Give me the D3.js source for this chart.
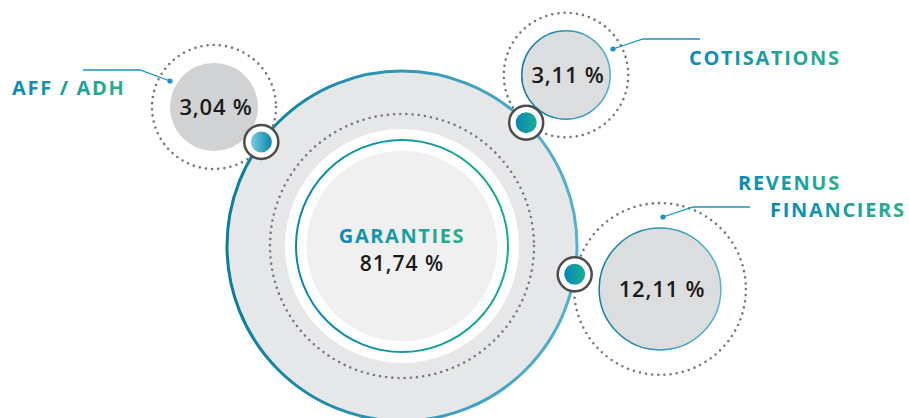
<!DOCTYPE html>
<html>
<head>
<meta charset="utf-8">
<script src="https://cdn.jsdelivr.net/npm/d3@7"></script>
<style>
  body { margin: 0; background: #fff; }
  svg { display: block; font-family: "Open Sans", sans-serif; }
</style>
</head>
<body>
<div class="chart"></div>
<script>
//chart data
var mainLabel = "GARANTIES";
var mainValue = 81.74;
var labels = [["AFF / ADH"], ["COTISATIONS"], ["REVENUS", "FINANCIERS"]];
var values = [3.04, 3.11, 12.11];

var width = 909, height = 418;

//layout of the bubbles around the big circle
var bigCenter = [402, 246];
var bigRadius = 175;
var bubbleCenters = [[214, 107], [566, 75], [660, 289]];
var dotAngles = [216.5, -44.8, 9.3]; //degrees, screen coords
var labelPos = [[12, 95], [689, 65], [738, 189.5]];
var labelLineDx = [[0, 32], [0, 0], [0, 32]];
var leaders = [
    [[83, 70], [140, 70], [170, 81]],
    [[700, 39], [643, 39], [613, 49]],
    [[750, 207], [693, 207], [663, 217]]
];

//size of bubbles
var rScale = d3.scalePow().exponent(0.235)
    .domain([0, 100])
    .range([0, 100]);

var fmt = function(v){ return d3.format(".2f")(v).replace(".", ",") + " %"; };

var svg = d3.select("div.chart")
    .append("svg")
    .attr("width", width)
    .attr("height", height);

var defs = svg.append("defs");

function gradient(id, c1, c2){
    var g = defs.append("linearGradient")
        .attr("id", id)
        .attr("x1", "0%").attr("x2", "100%")
        .attr("y1", "0%").attr("y2", "0%");
    g.append("stop").attr("offset", "0%").attr("stop-color", c1);
    g.append("stop").attr("offset", "100%").attr("stop-color", c2);
}
gradient("textGrad", "#0a89b6", "#28b08c");
gradient("ringGrad", "#0c7d9c", "#55b2cf");
gradient("tealRing", "#0a86b4", "#17ab8f");
gradient("dotGrad", "#0a86b8", "#1aae92");
gradient("dotGradLight", "#7ccbe0", "#0a86aa");

//big circle
var big = svg.append("g")
    .attr("transform", "translate(" + bigCenter + ")");

big.append("circle")
    .attr("r", bigRadius)
    .style("fill", "#e6e7e8")
    .style("stroke", "url(#ringGrad)")
    .style("stroke-width", 3);

big.append("circle")
    .attr("r", 132)
    .style("fill", "none")
    .style("stroke", "#77787b")
    .style("stroke-width", 2.6)
    .style("stroke-linecap", "round")
    .style("stroke-dasharray", "0 6.2");

big.append("circle")
    .attr("r", 117)
    .style("fill", "#fff");

big.append("circle")
    .attr("r", 106)
    .style("fill", "none")
    .style("stroke", "url(#tealRing)")
    .style("stroke-width", 2);

big.append("circle")
    .attr("r", rScale(mainValue))
    .style("fill", "#f0f0f1");

big.append("text")
    .attr("text-anchor", "middle")
    .attr("y", -3)
    .style("font-size", "20px")
    .style("font-weight", 700)
    .style("letter-spacing", "1.6px")
    .style("fill", "url(#textGrad)")
    .text(mainLabel);

big.append("text")
    .attr("text-anchor", "middle")
    .attr("y", 25)
    .style("font-size", "21px")
    .style("font-weight", 600)
    .style("letter-spacing", "1px")
    .style("fill", "#1a1a1a")
    .text(fmt(mainValue));

//small bubbles
var bubbles = svg.selectAll(".bubble")
    .data(values)
    .enter()
    .append("g")
    .attr("class", "bubble")
    .attr("transform", function(d, i){ return "translate(" + bubbleCenters[i] + ")"; });

bubbles.append("circle")
    .attr("r", function(d){ return rScale(d) + (d > 10 ? 25 : 18); })
    .style("fill", "none")
    .style("stroke", "#77787b")
    .style("stroke-width", 2.6)
    .style("stroke-linecap", "round")
    .style("stroke-dasharray", "0 6.2");

bubbles.append("circle")
    .attr("r", function(d){ return rScale(d); })
    .style("fill", function(d, i){ return i == 0 ? "#d1d2d4" : "#dcdddf"; })
    .style("stroke", function(d, i){ return i == 0 ? "none" : "url(#ringGrad)"; })
    .style("stroke-width", 1.5);

bubbles.append("text")
    .attr("text-anchor", "middle")
    .attr("x", 2)
    .attr("y", 8)
    .style("font-size", "22px")
    .style("font-weight", 600)
    .style("letter-spacing", "0.8px")
    .style("fill", "#1a1a1a")
    .text(fmt);

//leader lines
svg.selectAll(".leader")
    .data(leaders)
    .enter()
    .append("path")
    .attr("class", "leader")
    .attr("d", d3.line())
    .style("fill", "none")
    .style("stroke", "#1a93bd")
    .style("stroke-width", 1.3);

svg.selectAll(".leaderDot")
    .data(leaders)
    .enter()
    .append("circle")
    .attr("cx", function(d){ return d[2][0]; })
    .attr("cy", function(d){ return d[2][1]; })
    .attr("r", 2.6)
    .style("fill", "#1a93bd");

//labels, one text per line
var labelLines = [];
labels.forEach(function(d, i){
    d.forEach(function(t, j){
        labelLines.push({ text: t, x: labelPos[i][0] + labelLineDx[i][j], y: labelPos[i][1] + j * 27.5 });
    });
});

svg.selectAll(".label")
    .data(labelLines)
    .enter()
    .append("text")
    .attr("class", "label")
    .attr("x", function(d){ return d.x; })
    .attr("y", function(d){ return d.y; })
    .style("font-size", "20px")
    .style("font-weight", 700)
    .style("letter-spacing", "1.7px")
    .style("fill", "url(#textGrad)")
    .text(function(d){ return d.text; });

//connector dots on big circle
var dots = svg.selectAll(".conn")
    .data(dotAngles)
    .enter()
    .append("g")
    .attr("class", "conn")
    .attr("transform", function(a){
        var rad = a * Math.PI / 180;
        return "translate(" + (bigCenter[0] + bigRadius * Math.cos(rad)) + "," +
            (bigCenter[1] + bigRadius * Math.sin(rad)) + ")";
    });

dots.append("circle")
    .attr("r", 17)
    .style("fill", "#fff")
    .style("stroke", "#4d4d4f")
    .style("stroke-width", 2.5);

dots.append("circle")
    .attr("r", 10.5)
    .style("fill", function(d, i){ return i == 0 ? "url(#dotGradLight)" : "url(#dotGrad)"; });
</script>
</body>
</html>
